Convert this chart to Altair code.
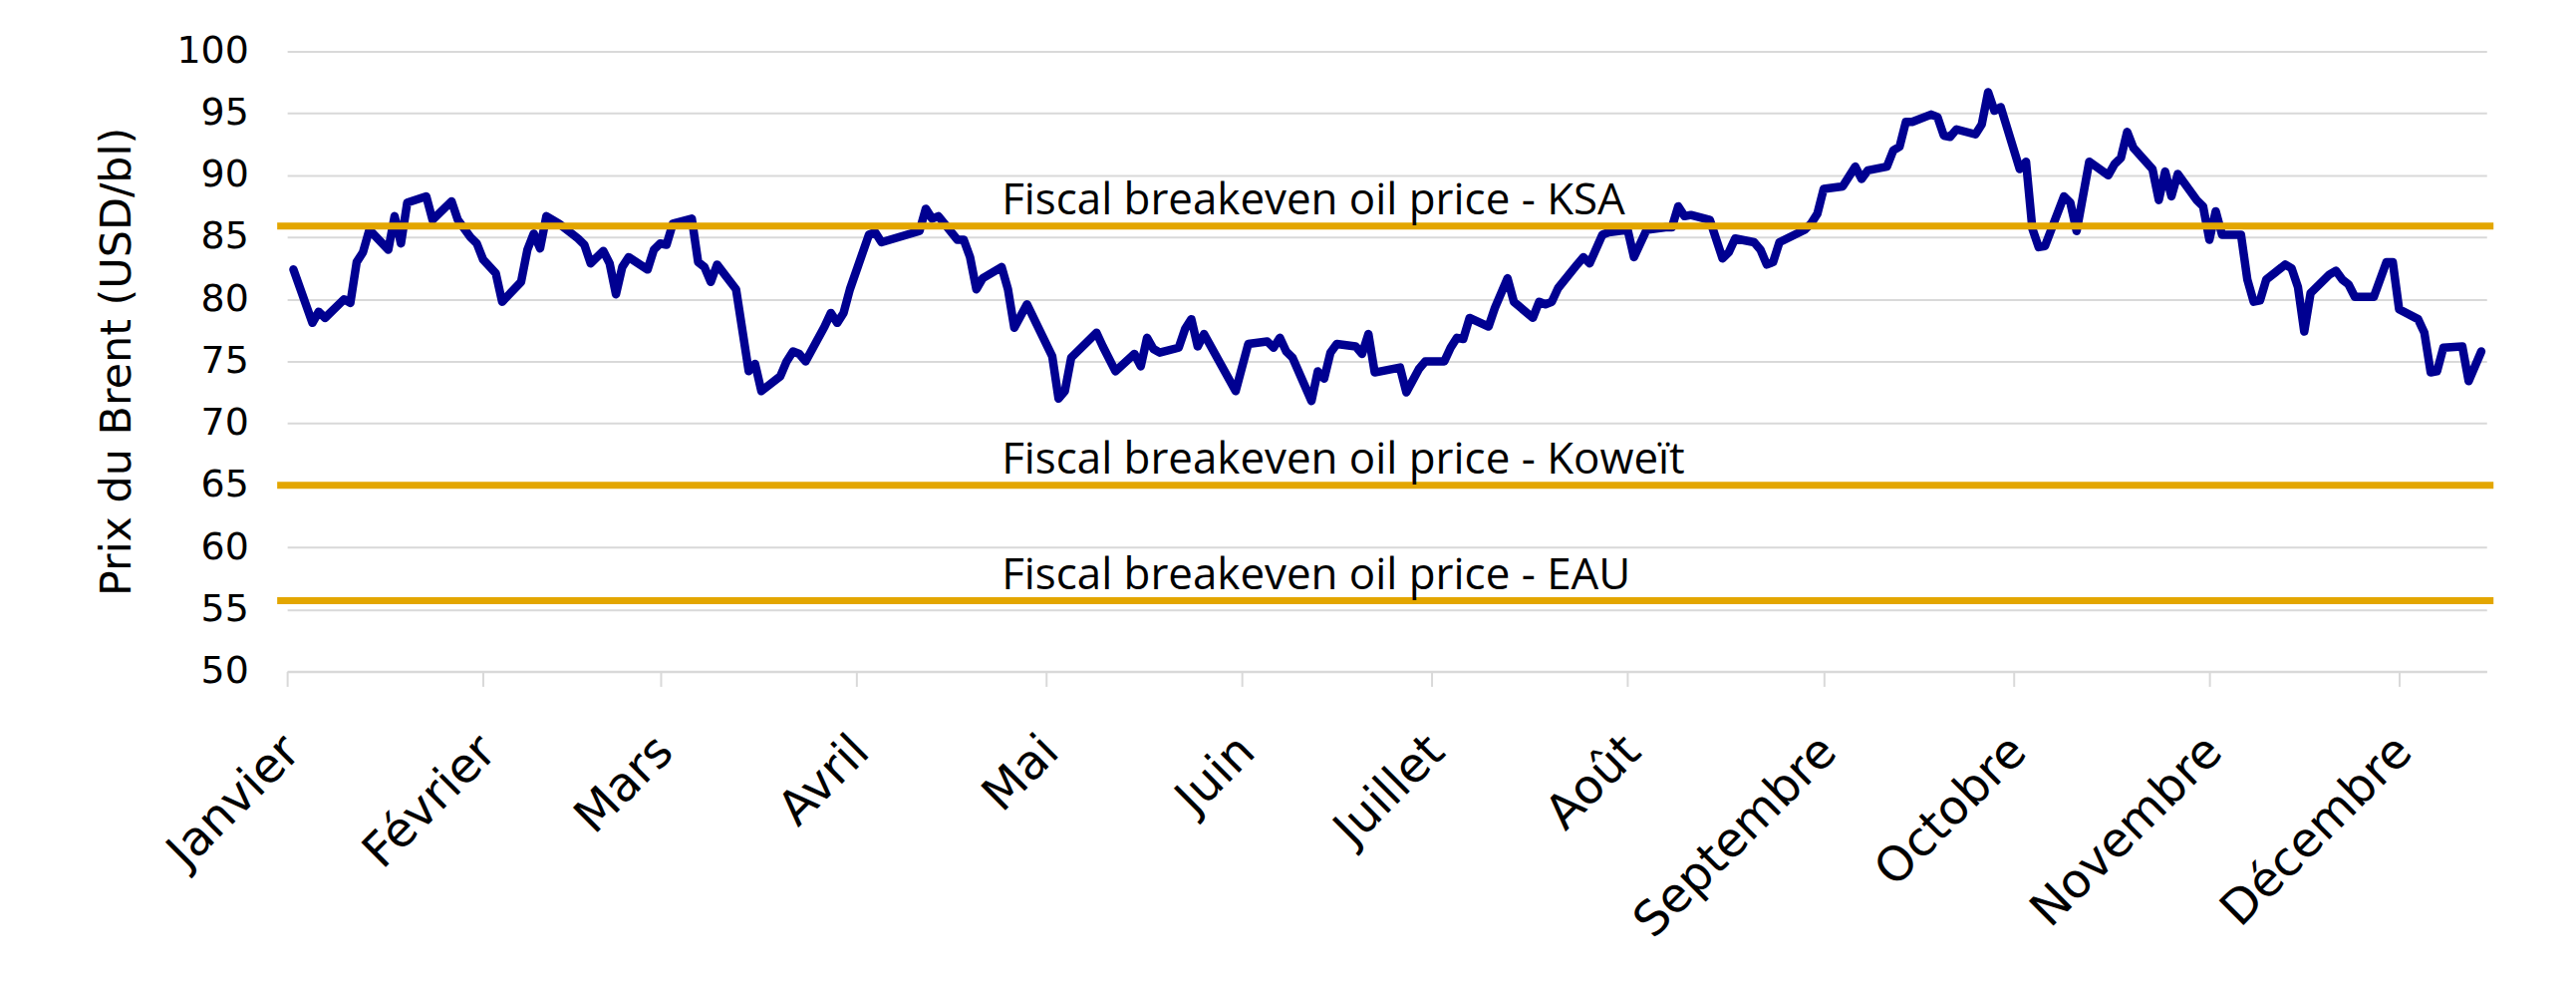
import json
import altair as alt
import pandas as pd

# ---- data ----
# days since 2023-01-01 and Brent price (USD/bl)
DAYS = [1, 4, 5, 6, 9, 10, 11, 12, 13, 16,
        17, 18, 19, 22, 23, 26, 27, 29, 30, 31,
        33, 34, 37, 38, 39, 40, 41, 43, 45, 46,
        47, 48, 50, 51, 52, 53, 54, 57, 58, 59,
        60, 61, 64, 65, 66, 67, 68, 71, 73, 74,
        75, 78, 79, 80, 81, 82, 85, 86, 87, 88,
        89, 92, 93, 94, 100, 101, 102, 103, 106, 107,
        108, 109, 110, 113, 114, 115, 117, 121, 122, 123,
        124, 128, 129, 131, 134, 135, 136, 137, 138, 141,
        142, 143, 144, 145, 150, 152, 155, 156, 157, 158,
        159, 162, 163, 164, 165, 166, 169, 170, 171, 172,
        176, 177, 179, 180, 183, 184, 185, 186, 187, 190,
        191, 193, 194, 197, 198, 199, 200, 201, 204, 205,
        206, 208, 209, 212, 213, 215, 218, 219, 220, 221,
        222, 225, 227, 228, 229, 232, 233, 234, 235, 236,
        240, 241, 242, 243, 246, 248, 249, 250, 253, 254,
        255, 256, 257, 260, 261, 262, 263, 264, 267, 268,
        269, 270, 271, 274, 275, 276, 277, 278, 281, 282,
        283, 285, 288, 289, 290, 291, 292, 295, 296, 297,
        298, 299, 302, 303, 304, 305, 306, 309, 310, 311,
        312, 313, 316, 317, 318, 319, 320, 323, 324, 325,
        326, 327, 330, 332, 333, 334, 337, 338, 339, 340,
        341, 344, 345, 347]
PRICES = [82.4, 78.1, 79.0, 78.5, 80.0, 79.7, 83.0, 83.8, 85.6, 84.0,
          86.7, 84.5, 87.8, 88.3, 86.4, 87.9, 86.4, 85.0, 84.5, 83.2,
          82.1, 79.8, 81.4, 84.0, 85.3, 84.1, 86.7, 86.1, 85.3, 84.9,
          84.4, 82.9, 83.9, 82.9, 80.4, 82.6, 83.4, 82.4, 84.0, 84.5,
          84.4, 86.1, 86.5, 83.0, 82.6, 81.4, 82.8, 80.8, 74.2, 74.8,
          72.6, 73.8, 75.0, 75.8, 75.6, 75.0, 77.8, 78.9, 78.1, 78.9,
          80.8, 85.2, 85.4, 84.6, 85.5, 87.3, 86.5, 86.7, 84.8, 84.8,
          83.4, 80.8, 81.7, 82.6, 80.8, 77.7, 79.6, 75.4, 72.0, 72.6,
          75.3, 77.3, 76.2, 74.2, 75.6, 74.6, 76.9, 76.0, 75.7, 76.1,
          77.6, 78.4, 76.2, 77.2, 72.6, 76.4, 76.6, 76.1, 76.9, 75.8,
          75.3, 71.8, 74.2, 73.6, 75.7, 76.4, 76.2, 75.6, 77.2, 74.1,
          74.5, 72.5, 74.4, 75.0, 75.0, 76.1, 76.9, 76.8, 78.5, 77.8,
          79.3, 81.7, 79.8, 78.5, 79.8, 79.6, 79.8, 80.9, 82.8, 83.4,
          82.9, 85.2, 85.4, 85.6, 83.4, 85.6, 85.8, 85.8, 87.5, 86.7,
          86.8, 86.4, 83.3, 83.8, 84.9, 84.6, 84.0, 82.8, 83.0, 84.6,
          85.6, 86.1, 86.9, 88.9, 89.1, 90.7, 89.7, 90.4, 90.7, 92.0,
          92.3, 94.3, 94.3, 94.9, 94.7, 93.2, 93.1, 93.7, 93.3, 94.1,
          96.7, 95.2, 95.5, 90.5, 91.1, 85.7, 84.2, 84.3, 88.3, 87.8,
          85.5, 91.1, 90.0, 90.9, 91.4, 93.5, 92.2, 90.5, 88.0, 90.3,
          88.3, 90.1, 88.0, 87.5, 84.8, 87.1, 85.2, 85.2, 81.6, 79.8,
          79.9, 81.6, 82.8, 82.5, 81.0, 77.4, 80.5, 82.0, 82.3, 81.6,
          81.2, 80.2, 80.2, 83.0, 83.0, 79.2, 78.4, 77.3, 74.1, 74.2,
          76.1, 76.2, 73.4, 75.8]

MONTHS = ["Janvier", "Février", "Mars", "Avril", "Mai", "Juin", "Juillet",
          "Août", "Septembre", "Octobre", "Novembre", "Décembre"]

BREAKEVEN_LABELS = ["Fiscal breakeven oil price - KSA",
                    "Fiscal breakeven oil price - Koweït",
                    "Fiscal breakeven oil price - EAU"]
BREAKEVEN_VALUES = [85.9, 65.0, 55.7]
LABEL_DATE = "2023-04-24"

Y_TICKS = [50, 55, 60, 65, 70, 75, 80, 85, 90, 95, 100]

# ---- tables ----
n = min(len(DAYS), len(PRICES))
dates = (pd.Timestamp("2023-01-01") + pd.to_timedelta(DAYS[:n], unit="D")).strftime("%Y-%m-%d")
df = pd.DataFrame({"date": list(dates), "price": PRICES[:n]})
ref = pd.DataFrame({"label": BREAKEVEN_LABELS, "value": BREAKEVEN_VALUES,
                    "date": [LABEL_DATE] * len(BREAKEVEN_LABELS)})

W, H = 2214, 624
GRID = "#d9d9d9"
BLUE = "#000091"
GOLD = "#E3A600"

x_scale = alt.Scale(type="utc", domain=[
    alt.DateTime(year=2023, month=1, date=1, utc=True),
    alt.DateTime(year=2023, month=12, date=14, hours=20, utc=True)])
y_scale = alt.Scale(domain=[50, 100], nice=False, zero=False)

month_expr = json.dumps(MONTHS, ensure_ascii=False) + "[utcmonth(datum.value)]"

x_axis = alt.Axis(
    values=[alt.DateTime(year=2023, month=m, date=1, utc=True) for m in range(1, 13)],
    labelExpr=month_expr, title=None, grid=False,
    labelAngle=-45, labelAlign="right", labelBaseline="top",
    labelFont="DejaVu Sans", labelFontSize=48, labelColor="black",
    labelPadding=41, labelOffset=-12, labelLimit=0,
    labelOverlap=False, labelFlush=False, labelBound=False,
    domainColor=GRID, domainWidth=2.5, tickColor=GRID, tickWidth=2, tickSize=15,
)
y_axis = alt.Axis(
    values=Y_TICKS, title="Prix du Brent (USD/bl)", grid=True,
    gridColor=GRID, gridWidth=2, domain=False, ticks=False, tickSize=0,
    labelFont="DejaVu Sans", labelFontSize=38, labelColor="black", labelPadding=39,
    titleFont="DejaVu Sans", titleFontSize=43, titleFontWeight="normal",
    titleColor="black", titlePadding=38,
)

line = alt.Chart(df).mark_line(
    color=BLUE, strokeWidth=8.5, strokeJoin="round", strokeCap="round"
).encode(
    x=alt.X("date:T", scale=x_scale, axis=x_axis),
    y=alt.Y("price:Q", scale=y_scale, axis=y_axis),
)

rules = alt.Chart(ref).mark_rule(color=GOLD, strokeWidth=7).encode(
    y=alt.Y("value:Q", scale=y_scale),
    x=alt.value(-10),
    x2=alt.value(W + 7),
)

texts = alt.Chart(ref).mark_text(
    align="left", baseline="alphabetic", dy=-12,
    font="Open Sans", fontSize=44, color="black"
).encode(
    x=alt.X("date:T", scale=x_scale),
    y=alt.Y("value:Q", scale=y_scale),
    text="label:N",
)

chart = alt.layer(line, rules, texts).properties(
    width=W, height=H,
    padding={"left": 281, "top": 42, "right": 82, "bottom": 316},
    autosize=alt.AutoSizeParams(type="none"),
).configure_view(stroke=None)

chart.save("out.html", embed_options={"renderer": "svg", "actions": False})
